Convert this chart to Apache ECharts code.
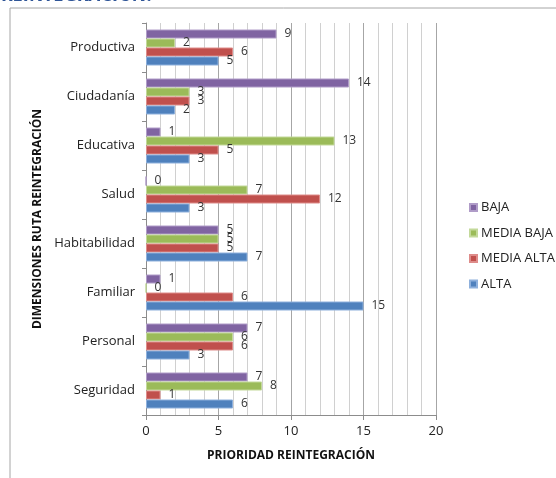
<!DOCTYPE html>
<html>
<head>
<meta charset="utf-8">
<script src="https://cdn.jsdelivr.net/npm/echarts@6/dist/echarts.min.js"></script>
<style>
  html, body { margin: 0; padding: 0; background: #fff; }
  #chart { width: 556px; height: 478px; }
</style>
</head>
<body>
<div id="chart"></div>
<script>
// Dimensions listed bottom-to-top, as the category axis draws them
const categories = ['Seguridad', 'Personal', 'Familiar', 'Habitabilidad', 'Salud', 'Educativa', 'Ciudadanía', 'Productiva'];

// Priority counts per dimension
const alta      = [6, 3, 15, 7, 3, 3, 2, 5];
const mediaAlta = [1, 6, 6, 5, 12, 5, 3, 6];
const mediaBaja = [8, 6, 0, 5, 7, 13, 3, 2];
const baja      = [7, 7, 1, 5, 0, 1, 14, 9];

const xTicks = [0, 5, 10, 15, 20];

const font = '"Open Sans", "Noto Sans", sans-serif';

function bar(name, data, color, border) {
  return {
    name: name,
    type: 'bar',
    data: data,
    barWidth: 9,
    barGap: '0%',
    itemStyle: { color: color, borderColor: border, borderWidth: 1 },
    label: {
      show: true,
      position: 'right',
      distance: 8,
      color: '#333',
      fontFamily: font,
      fontSize: 12
    }
  };
}

const chart = echarts.init(document.getElementById('chart'), null, { renderer: 'canvas' });

chart.setOption({
  animation: false,
  backgroundColor: '#fff',
  graphic: [
    {
      type: 'rect',
      shape: { x: 10, y: 8, width: 600, height: 520 },
      style: { fill: 'none', stroke: '#A6A6A6', lineWidth: 1 },
      z: -1
    },
    {
      type: 'text',
      left: 2,
      top: -14,
      style: {
        text: 'REINTEGRACIÓN:',
        fill: '#2F5597',
        font: 'italic bold 19px ' + font
      }
    }
  ],
  legend: {
    orient: 'vertical',
    left: 464,
    top: 196,
    itemGap: 12.5,
    itemWidth: 7,
    itemHeight: 7,
    icon: 'rect',
    textStyle: { fontFamily: font, fontSize: 13, color: '#222', padding: [0, 0, 0, -1] },
    data: ['BAJA', 'MEDIA BAJA', 'MEDIA ALTA', 'ALTA']
  },
  grid: { left: 146, right: 120, top: 23, bottom: 63, containLabel: false },
  xAxis: {
    type: 'value',
    min: xTicks[0],
    max: xTicks[xTicks.length - 1],
    interval: 5,
    name: 'PRIORIDAD REINTEGRACIÓN',
    nameLocation: 'middle',
    nameGap: 35,
    nameTextStyle: { fontFamily: font, fontSize: 12, fontWeight: 'bold', color: '#111' },
    axisLine: { show: true, lineStyle: { color: '#8C8C8C' } },
    axisTick: { show: true, length: 5, lineStyle: { color: '#8C8C8C' } },
    axisLabel: { fontFamily: font, fontSize: 13, color: '#222', margin: 10 },
    splitLine: { show: true, lineStyle: { color: '#A6A6A6' } },
    minorTick: { show: false, splitNumber: 5 },
    minorSplitLine: { show: true, lineStyle: { color: '#D0D0D0' } }
  },
  yAxis: {
    type: 'category',
    data: categories,
    name: 'DIMENSIONES RUTA REINTEGRACIÓN',
    nameLocation: 'middle',
    nameGap: 101,
    nameRotate: 90,
    nameTextStyle: { fontFamily: font, fontSize: 12, fontWeight: 'bold', color: '#111' },
    axisLine: { show: true, lineStyle: { color: '#8C8C8C' } },
    axisTick: { show: true, length: 4, lineStyle: { color: '#8C8C8C' } },
    axisLabel: { fontFamily: font, fontSize: 13, color: '#222', margin: 11 },
    splitLine: { show: false }
  },
  // Top-to-bottom order inside each group: BAJA, MEDIA BAJA, MEDIA ALTA, ALTA
  series: [
    bar('BAJA', baja, '#8064A2', '#B09CC8'),
    bar('MEDIA BAJA', mediaBaja, '#9BBB59', '#C3D99A'),
    bar('MEDIA ALTA', mediaAlta, '#C0504D', '#DE8C8A'),
    bar('ALTA', alta, '#4F81BD', '#8EB0DC')
  ]
});
</script>
</body>
</html>
